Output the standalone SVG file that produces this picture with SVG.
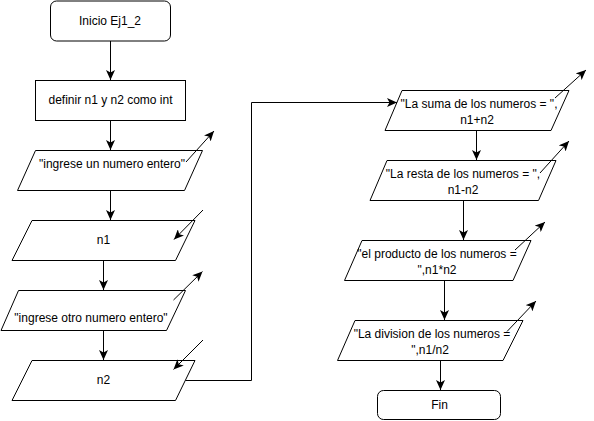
<svg xmlns="http://www.w3.org/2000/svg" width="594" height="421" viewBox="0 0 594 421">
<style>
.s{fill:#fff;stroke:#000;stroke-width:1}
.t{font-family:"Liberation Sans",Arial,Helvetica,sans-serif;font-size:12px;fill:#000;text-anchor:middle}
.c{fill:none;stroke:#000;stroke-width:1}
</style>
<defs>
<marker id="a" markerUnits="userSpaceOnUse" markerWidth="10" markerHeight="9" viewBox="0 0 10 9" refX="10" refY="4.5" orient="auto">
<path d="M0,0 L10,4.5 L0,9 L2.5,4.5 Z" fill="#000"/>
</marker>
</defs>
<rect width="594" height="421" fill="#fff"/>
<g id="inicio"><rect class="s" x="50.5" y="1" width="120" height="40" rx="6"/><text class="t" x="110" y="25">Inicio Ej1_2</text></g>
<g id="definir"><rect class="s" x="35.5" y="80.5" width="150" height="40"/><text class="t" x="110.5" y="104">definir n1 y n2 como int</text></g>
<g id="in1"><polygon class="s" points="35.5,150.5 202.5,150.5 184.5,190.5 17.5,190.5"/><text class="t" x="112" y="167.5">"ingrese un numero entero"</text></g>
<g id="n1"><polygon class="s" points="32,220.5 195,220.5 175.5,260.5 12,260.5"/><text class="t" x="103.5" y="244">n1</text></g>
<g id="in2"><polygon class="s" points="18.5,290.5 185.5,290.5 166.5,330.5 1,330.5"/><text class="t" x="91" y="321.5">"ingrese otro numero entero"</text></g>
<g id="n2"><polygon class="s" points="32,360.5 195,360.5 175.5,400.5 12,400.5"/><text class="t" x="103.5" y="384">n2</text></g>
<g id="suma"><polygon class="s" points="402,90.5 569,90.5 551,130.5 385,130.5"/><text class="t" x="479"><tspan x="479" y="108">"La suma de los numeros = ",</tspan><tspan x="477" y="123.5">n1+n2</tspan></text></g>
<g id="resta"><polygon class="s" points="387,160.5 556,160.5 538.5,200.5 370,200.5"/><text class="t" x="463"><tspan x="463" y="178">"La resta de los numeros = ",</tspan><tspan x="463" y="193.5">n1-n2</tspan></text></g>
<g id="producto"><polygon class="s" points="362,240.5 531,240.5 513,280.5 344.5,280.5"/><text class="t" x="437"><tspan x="437" y="258">"el producto de los numeros =</tspan><tspan x="437" y="273.5">",n1*n2</tspan></text></g>
<g id="division"><polygon class="s" points="355,320.5 523,320.5 503,360.5 337.5,360.5"/><text class="t" x="432"><tspan x="432" y="338">"La division de los numeros =</tspan><tspan x="430" y="353.5">",n1/n2</tspan></text></g>
<g id="fin"><rect class="s" x="377.5" y="390.5" width="123" height="29" rx="6"/><text class="t" x="439.5" y="409">Fin</text></g>
<g id="connectors">
<path class="c" marker-end="url(#a)" d="M110.5,41 V80"/>
<path class="c" marker-end="url(#a)" d="M110.5,120.5 V150"/>
<path class="c" marker-end="url(#a)" d="M110.5,190.5 V220"/>
<path class="c" marker-end="url(#a)" d="M103.5,260.5 V290"/>
<path class="c" marker-end="url(#a)" d="M103.5,330.5 V360"/>
<path class="c" marker-end="url(#a)" d="M185.5,380.5 H251.5 V102.5 H397"/>
<path class="c" marker-end="url(#a)" d="M476.5,130.5 V160"/>
<path class="c" marker-end="url(#a)" d="M463.5,200.5 V240"/>
<path class="c" marker-end="url(#a)" d="M444.5,280.5 V320"/>
<path class="c" marker-end="url(#a)" d="M440.5,360.5 V390"/>
<path class="c" marker-end="url(#a)" d="M186,162 L214,131"/>
<path class="c" marker-end="url(#a)" d="M203,210 L174,239.5"/>
<path class="c" marker-end="url(#a)" d="M173.5,300 L202.5,271.5"/>
<path class="c" marker-end="url(#a)" d="M203,340 L173.5,369.5"/>
<path class="c" marker-end="url(#a)" d="M555,98 L586,70"/>
<path class="c" marker-end="url(#a)" d="M540,173 L569,141"/>
<path class="c" marker-end="url(#a)" d="M515,250 L545,222"/>
<path class="c" marker-end="url(#a)" d="M507,331.5 L536,301"/>
</g>
</svg>
